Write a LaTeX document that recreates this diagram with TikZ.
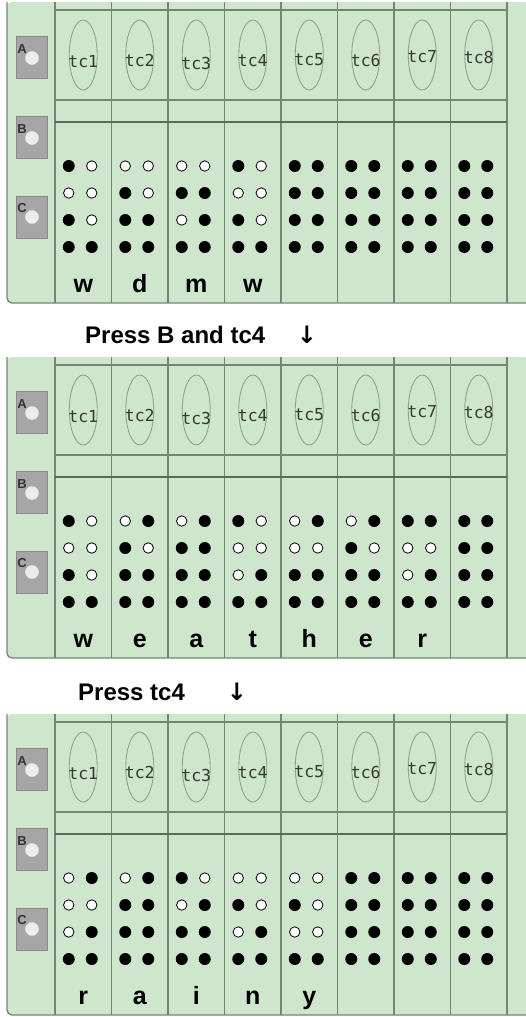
\documentclass[tikz,border=0pt]{standalone}
\usepackage{fontspec}
\setmainfont{Liberation Sans}
\newfontfamily\monof{DejaVu Sans Mono}
\newfontfamily\arrowf{DejaVu Sans}
\definecolor{pgreen}{RGB}{205,230,204}
\definecolor{lineg}{RGB}{118,132,118}
\definecolor{darkline}{RGB}{92,106,92}
\definecolor{btngray}{RGB}{166,166,166}
\definecolor{btnedge}{RGB}{138,138,138}
\definecolor{knob}{RGB}{236,236,236}
\definecolor{ellg}{RGB}{140,165,140}
\definecolor{tctext}{RGB}{55,58,45}
\tikzset{
  divline/.style={draw=lineg, line width=1.3pt},
  thickline/.style={draw=darkline, line width=2.6pt},
  btn/.style={fill=btngray, draw=btnedge, line width=0.8pt},
  knobst/.style={fill=knob, draw=white!80!gray, line width=0.6pt},
  btnlabel/.style={font=\bfseries\fontsize{13}{13}\selectfont, text=black!80, inner sep=0pt},
  tcell/.style={draw=ellg, line width=0.9pt},
  tclabel/.style={font=\monof\fontsize{16.5}{16.5}\selectfont, text=tctext, inner sep=0pt},
  lett/.style={font=\bfseries\fontsize{25}{25}\selectfont, text=black, inner sep=0pt},
  heading/.style={font=\bfseries\fontsize{24}{24}\selectfont, text=black, inner sep=0pt},
  arrowtxt/.style={font=\arrowf\bfseries\fontsize{24}{24}\selectfont, text=black, inner sep=0pt}
}
\newcommand\dotat[3]{%
  \ifnum#3=1\relax
    \fill[black] (\cx-14.5+23*#1, 166+27*#2) circle[radius=6];
  \else
    \draw[black, line width=0.8pt, fill=white] (\cx-14.5+23*#1, 166+27*#2) circle[radius=5.2];
  \fi}
\newcommand\dotgrid[8]{%
  \dotat{0}{0}{#1}\dotat{1}{0}{#2}%
  \dotat{0}{1}{#3}\dotat{1}{1}{#4}%
  \dotat{0}{2}{#5}\dotat{1}{2}{#6}%
  \dotat{0}{3}{#7}\dotat{1}{3}{#8}}
\newcommand\brpanel[4]{% #1 name, #2 y offset, #3 dot patterns, #4 letters
\begin{scope}[shift={(0,#2)}]
  \fill[pgreen, rounded corners=5] (7,2) -- (7,303) -- (530,303) -- (530,2) -- cycle;
  \draw[divline, rounded corners=5] (7,2) -- (7,303) -- (530,303);
  \foreach \k in {0,...,8} {
    \draw[divline] ({55+56.5*\k},2) -- ({55+56.5*\k},303);
  }
  \draw[divline] (55,10) -- (507,10);
  \draw[divline] (55,100) -- (507,100);
  \draw[thickline] (55,122) -- (507,122);
  % buttons
  \foreach \n/\yt/\yc/\yl in {A/36/58/49, B/116/138/129, C/196/217/208} {
    \draw[btn] (16,\yt) rectangle (47,\yt+42);
    \draw[knobst] (32,\yc) circle[radius=6.5];
    \node[btnlabel] (#1btn\n) at (22,\yl) {\n};
  }
  % touch cells
  \foreach \c/\ty in {1/62,2/60,3/63,4/61,5/60,6/60,7/57,8/57} {
    \pgfmathsetmacro\cx{55+56.5*(\c-0.5)}
    \draw[tcell] (\cx,55) ellipse[x radius=14, y radius=35];
    \node[tclabel] (#1tc\c) at (\cx,\ty) {tc\c};
  }
  % dots
  \foreach \c/\p in {#3} {
    \pgfmathsetmacro\cx{55+56.5*(\c-0.5)}
    \expandafter\dotgrid\p
  }
  % letters
  \foreach \c/\l in {#4} {
    \pgfmathsetmacro\cx{55+56.5*(\c-0.5)}
    \node[lett, anchor=base] (#1L\c) at (\cx,292) {\l};
  }
\end{scope}}
\begin{document}
\begin{tikzpicture}[x=1pt,y=-1pt]
\useasboundingbox (0,0) rectangle (526,1017);
\fill[white] (0,0) rectangle (526,1017);
\brpanel{p1}{0}{1/10001011,2/00101111,3/00110111,4/10001011,5/11111111,6/11111111,7/11111111,8/11111111}{1/w,2/d,3/m,4/w}
\brpanel{p2}{355}{1/10001011,2/01101111,3/01111111,4/10000111,5/01001111,6/01101111,7/11000111,8/11111111}{1/w,2/e,3/a,4/t,5/h,6/e,7/r}
\brpanel{p3}{712}{1/01000111,2/01111111,3/10011111,4/00100111,5/00100011,6/11111111,7/11111111,8/11111111}{1/r,2/a,3/i,4/n,5/y}
\node[heading, anchor=base west] (h1) at (85,343) {Press B and tc4};
\node[arrowtxt] (a1) at (307,335) {↓};
\node[heading, anchor=base west] (h2) at (78,700) {Press tc4};
\node[arrowtxt] (a2) at (237,692) {↓};
\end{tikzpicture}
\end{document}
